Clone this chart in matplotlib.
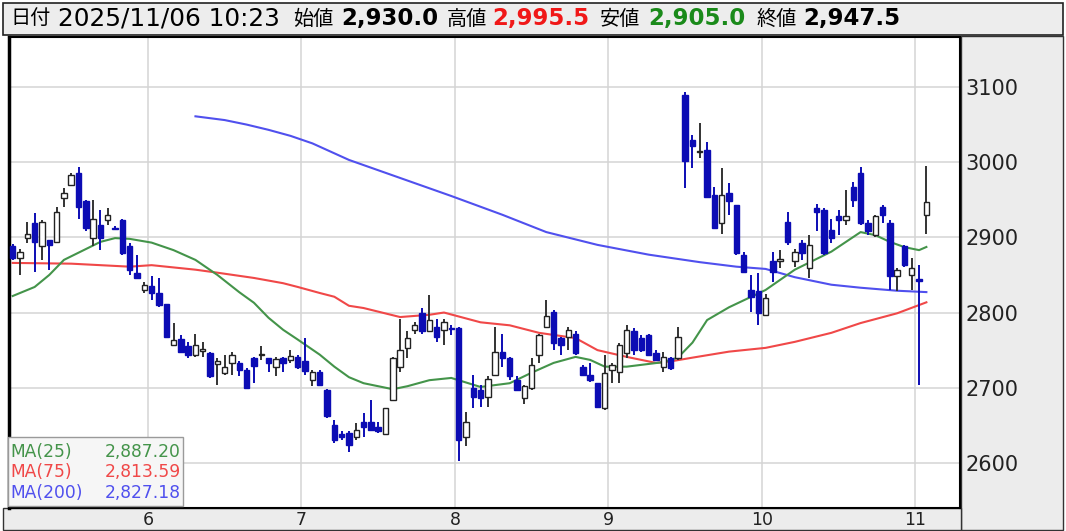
import matplotlib
matplotlib.use("Agg")
import matplotlib.pyplot as plt
from matplotlib.patches import Rectangle
import numpy as np

plt.rcParams['font.family'] = ['DejaVu Sans', 'Noto Sans CJK JP']

W, H = 1066, 531

# 足データ (古い順)
opens = [2889, 2872, 2899, 2919, 2888, 2897, 2894, 2952, 2970, 2985,
         2948, 2899, 2917, 2923, 2913, 2923, 2889, 2852, 2830, 2835,
         2826, 2812, 2757, 2765, 2755, 2744, 2749, 2746, 2732, 2719,
         2733, 2733, 2724, 2739, 2743, 2739, 2728, 2739, 2737, 2741,
         2735, 2710, 2721, 2697, 2651, 2639, 2640, 2635, 2655, 2655,
         2648, 2639, 2684, 2728, 2753, 2777, 2799, 2775, 2781, 2777,
         2780, 2779, 2635, 2699, 2697, 2688, 2717, 2748, 2739, 2710,
         2686, 2699, 2744, 2781, 2801, 2766, 2768, 2772, 2728, 2717,
         2706, 2673, 2724, 2721, 2746, 2775, 2766, 2770, 2746, 2728,
         2739, 2739, 3089, 3030, 3013, 3016, 2956, 2919, 2959, 2943,
         2877, 2830, 2828, 2797, 2868, 2869, 2921, 2868, 2892, 2859,
         2939, 2936, 2910, 2928, 2923, 2967, 2985, 2919, 2903, 2941,
         2919, 2848, 2888, 2850, 2844, 2930.0]
highs = [2891, 2885, 2921, 2932, 2923, 2897, 2941, 2965, 2985, 2994,
         2950, 2950, 2936, 2939, 2915, 2925, 2892, 2877, 2841, 2848,
         2846, 2812, 2786, 2770, 2761, 2772, 2761, 2748, 2740, 2744,
         2748, 2735, 2726, 2741, 2755, 2740, 2741, 2741, 2750, 2744,
         2766, 2724, 2723, 2698, 2657, 2642, 2642, 2653, 2666, 2684,
         2655, 2673, 2741, 2792, 2775, 2788, 2806, 2823, 2792, 2792,
         2784, 2781, 2668, 2717, 2704, 2715, 2781, 2772, 2741, 2715,
         2704, 2739, 2772, 2817, 2803, 2768, 2781, 2775, 2730, 2733,
         2706, 2744, 2733, 2759, 2784, 2779, 2770, 2772, 2750, 2748,
         2741, 2781, 3094, 3036, 3052, 3027, 2967, 2992, 2972, 2943,
         2881, 2850, 2852, 2824, 2881, 2883, 2934, 2885, 2897, 2903,
         2945, 2939, 2925, 2936, 2963, 2974, 2994, 2923, 2930, 2943,
         2923, 2859, 2890, 2872, 2863, 2995.5]
lows = [2870, 2850, 2892, 2854, 2870, 2857, 2894, 2941, 2970, 2925,
        2908, 2888, 2883, 2917, 2910, 2877, 2850, 2846, 2826, 2817,
        2808, 2766, 2756, 2746, 2739, 2741, 2741, 2713, 2704, 2717,
        2717, 2715, 2699, 2706, 2737, 2721, 2715, 2721, 2733, 2725,
        2717, 2702, 2703, 2660, 2626, 2630, 2615, 2631, 2635, 2643,
        2640, 2639, 2684, 2721, 2739, 2772, 2772, 2775, 2761, 2757,
        2770, 2602, 2622, 2673, 2675, 2675, 2717, 2728, 2710, 2695,
        2679, 2697, 2733, 2779, 2750, 2744, 2750, 2744, 2715, 2708,
        2673, 2670, 2706, 2706, 2740, 2744, 2748, 2742, 2735, 2721,
        2724, 2737, 2965, 2992, 3005, 2954, 2912, 2905, 2930, 2877,
        2852, 2801, 2784, 2795, 2841, 2859, 2890, 2861, 2870, 2846,
        2908, 2877, 2892, 2903, 2917, 2941, 2917, 2903, 2901, 2919,
        2830, 2828, 2861, 2830, 2704, 2905.0]
closes = [2872, 2881, 2905, 2894, 2921, 2890, 2934, 2959, 2983, 2941,
          2912, 2925, 2899, 2930, 2911, 2879, 2857, 2846, 2837, 2826,
          2810, 2768, 2764, 2748, 2744, 2757, 2751, 2715, 2735, 2728,
          2744, 2724, 2699, 2729, 2745, 2733, 2738, 2733, 2742, 2728,
          2722, 2721, 2704, 2662, 2631, 2634, 2624, 2644, 2648, 2644,
          2642, 2673, 2739, 2750, 2766, 2784, 2775, 2790, 2768, 2788,
          2778, 2631, 2655, 2688, 2686, 2711, 2748, 2739, 2715, 2697,
          2702, 2730, 2770, 2795, 2759, 2757, 2777, 2746, 2717, 2710,
          2675, 2719, 2730, 2757, 2777, 2750, 2750, 2744, 2737, 2741,
          2726, 2768, 3001, 3021, 3015, 2954, 2912, 2956, 2948, 2879,
          2854, 2821, 2799, 2819, 2854, 2871, 2894, 2881, 2879, 2890,
          2934, 2879, 2899, 2923, 2928, 2950, 2919, 2908, 2928, 2930,
          2848, 2857, 2863, 2859, 2842, 2947.5]

# 移動平均 (足番号, 値)
ma25_idx = [0, 3, 5, 7, 12, 14, 16, 19, 22, 25, 28, 31, 33, 35, 37, 39, 42,
            44, 46, 48, 52, 54, 57, 60, 64, 68, 71, 74, 77, 79, 81, 84, 89,
            91, 93, 95, 98, 103, 107, 112, 116, 118, 120, 122, 124, 125]
ma25_val = [2822, 2834, 2850, 2870, 2894, 2899, 2898, 2893, 2883, 2870,
            2850, 2827, 2813, 2793, 2777, 2764, 2744, 2728, 2714, 2706,
            2698, 2702, 2710, 2713, 2701, 2706, 2720, 2733, 2741, 2737,
            2728, 2728, 2734, 2740, 2760, 2790, 2807, 2830, 2857, 2881,
            2907, 2903, 2894, 2887, 2883, 2887.20]
ma75_idx = [0, 8, 16, 19, 25, 28, 33, 37, 39, 42, 44, 46, 48, 53, 57, 59,
            64, 68, 72, 77, 80, 84, 88, 90, 93, 98, 103, 107, 112, 116, 121,
            125]
ma75_val = [2866, 2865, 2861, 2863, 2857, 2853, 2846, 2839, 2834, 2826,
            2821, 2809, 2806, 2794, 2797, 2800, 2787, 2783, 2773, 2766,
            2750, 2741, 2733, 2735, 2740, 2748, 2753, 2761, 2773, 2786,
            2799, 2813.59]
ma200_idx = [25, 29, 32, 35, 38, 41, 46, 53, 60, 67, 73, 80, 87, 94, 99,
             103, 107, 112, 116, 121, 125]
ma200_val = [3061, 3056, 3050, 3043, 3035, 3025, 3003, 2979, 2955, 2930,
             2907, 2890, 2877, 2867, 2861, 2858, 2847, 2837, 2833, 2829,
             2827.18]

day_labels = ['6', '7', '8', '9', '10', '11']
day_first = [19, 40, 61, 82, 103, 124]
date_text = '2025/11/06 10:23'

UP_EDGE = '#222222'
DOWN = '#0c0cb4'
C25, C75, C200 = '#44944a', '#f04848', '#5050ee'

fig = plt.figure(figsize=(W / 100, H / 100), dpi=100)
fig.patch.set_facecolor('white')


def px_rect(x0, y0, x1, y1, **kw):
    r = Rectangle((x0 / W, 1 - y1 / H), (x1 - x0) / W, (y1 - y0) / H,
                  transform=fig.transFigure, **kw)
    fig.add_artist(r)
    return r


# 右の価格欄と下の日付欄
px_rect(961, 36, 1063, 530, facecolor='#ececec', edgecolor='#333333', lw=1, zorder=-1)
px_rect(3, 508, 961, 530, facecolor='#ececec', edgecolor='#333333', lw=1, zorder=-1)

ax = fig.add_axes([9 / W, (H - 508) / H, 951 / W, 471 / H])
ax.set_facecolor('white')

x = np.arange(len(opens))
o = np.array(opens)
c = np.array(closes)
up = c >= o

ax.vlines(x[up], np.array(lows)[up], np.array(highs)[up], color='#333333', lw=1.4, zorder=3)
ax.vlines(x[~up], np.array(lows)[~up], np.array(highs)[~up], color=DOWN, lw=1.4, zorder=3)
body_lo = np.minimum(o, c)
body_h = np.abs(c - o)
ax.bar(x[up], body_h[up], bottom=body_lo[up], width=0.74,
       facecolor='white', edgecolor=UP_EDGE, lw=1.0, zorder=4)
ax.bar(x[~up], body_h[~up], bottom=body_lo[~up], width=0.74,
       facecolor=DOWN, edgecolor=DOWN, lw=1.0, zorder=4)

ax.plot(ma200_idx, ma200_val, color=C200, lw=1.5, zorder=2)
ax.plot(ma75_idx, ma75_val, color=C75, lw=1.5, zorder=2)
ax.plot(ma25_idx, ma25_val, color=C25, lw=1.5, zorder=2)

ax.set_xlim(-0.51, 129.6)
ax.set_ylim(2540, 3166.5)

ax.set_yticks([2600, 2700, 2800, 2900, 3000, 3100])
ax.yaxis.tick_right()
ax.tick_params(axis='y', length=0, pad=4, labelsize=15, labelcolor='#222222')
ax.set_xticks(np.array(day_first) - 0.5)
ax.set_xticklabels(day_labels)
ax.tick_params(axis='x', length=0, pad=2, labelsize=12.5, labelcolor='#222222')
ax.grid(True, color='#d4d4d4', lw=1.1, zorder=0)
ax.set_axisbelow(True)
for s in ['top', 'bottom', 'right']:
    ax.spines[s].set_linewidth(1.5)
ax.spines['left'].set_linewidth(2.5)

# 上の情報欄
px_rect(3, 3, 1063, 35, facecolor='#ededed', edgecolor='#222222', lw=1.2, zorder=5)
ty = 1 - 19 / H
parts = [('日付', 10, 14.5, 'normal', 'black'),
         (date_text, 58, 17.8, 'normal', 'black'),
         ('始値', 293, 14.5, 'normal', 'black'),
         (f'{opens[-1]:,.1f}', 341, 16.5, 'bold', 'black'),
         ('高値', 447, 14.5, 'normal', 'black'),
         (f'{highs[-1]:,.1f}', 492, 16.5, 'bold', '#f01818'),
         ('安値', 600, 14.5, 'normal', 'black'),
         (f'{lows[-1]:,.1f}', 648, 16.5, 'bold', '#1a8a1a'),
         ('終値', 756, 14.5, 'normal', 'black'),
         (f'{closes[-1]:,.1f}', 803, 16.5, 'bold', 'black')]
for txt, px, sz, wt, col in parts:
    fig.text(px / W, ty, txt, fontsize=sz, fontweight=wt, color=col,
             ha='left', va='center', zorder=6)

# 移動平均の凡例
px_rect(8, 437, 183, 506, facecolor='#f6f6f6', edgecolor='#9a9a9a', lw=1, zorder=5)
legend_rows = [('MA(25)', ma25_val[-1], C25, 452),
               ('MA(75)', ma75_val[-1], C75, 472),
               ('MA(200)', ma200_val[-1], C200, 493)]
for name, val, col, py in legend_rows:
    fig.text(10 / W, 1 - py / H, name, fontsize=12.3, color=col, ha='left', va='center', zorder=6)
    fig.text(181 / W, 1 - py / H, f'{val:,.2f}', fontsize=12.3, color=col, ha='right', va='center', zorder=6)

fig.savefig('out.png', dpi=100)
